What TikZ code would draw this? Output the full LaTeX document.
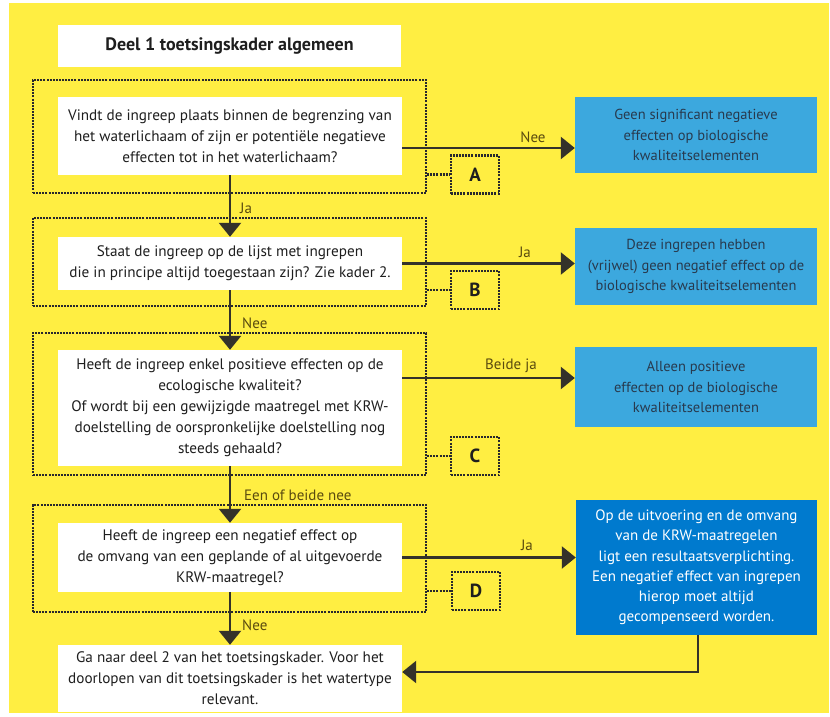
\documentclass[tikz,border=0pt]{standalone}
\usepackage{fontspec}
\setmainfont{PT Sans}
\usetikzlibrary{arrows.meta,calc}
\definecolor{bgyellow}{RGB}{255,238,66}
\definecolor{lblue}{RGB}{60,168,222}
\definecolor{dblue}{RGB}{0,122,206}
\definecolor{slate}{RGB}{40,58,78}
\definecolor{framegray}{RGB}{40,40,45}
\definecolor{arrowgray}{RGB}{52,50,42}
\definecolor{labelbrown}{RGB}{90,75,15}
\definecolor{qtext}{RGB}{30,30,30}
\tikzset{
  qbox/.style={fill=white, minimum width=344pt, align=center, text=qtext,
    font=\fontsize{15.2}{21}\selectfont, inner sep=0pt},
  frame/.style={draw=framegray, line width=2.2pt, dash pattern=on 2pt off 1.1pt, minimum width=393pt, inner sep=0pt},
  letterbox/.style={draw=framegray, line width=2.2pt, dash pattern=on 2pt off 1.1pt,
    minimum width=48pt, minimum height=38pt, font=\fontsize{19}{20}\selectfont\bfseries, text=qtext, inner sep=0pt},
  conn/.style={draw=framegray, line width=2.2pt, dash pattern=on 2pt off 1.1pt},
  bluebox/.style={fill=lblue, minimum width=242pt, align=center, text=slate,
    font=\fontsize{14.5}{20.5}\selectfont, inner sep=0pt},
  darkbox/.style={fill=dblue, minimum width=241pt, align=center, text=white,
    font=\fontsize{15}{20.2}\selectfont, inner sep=0pt},
  arr/.style={draw=arrowgray, line width=2.5pt, -{Triangle[width=22pt,length=14pt]}},
  lbl/.style={text=labelbrown, font=\fontsize{15}{16}\selectfont, inner sep=0pt},
}
\begin{document}
\begin{tikzpicture}[x=1pt,y=-1pt]
\useasboundingbox (0,0) rectangle (830,717);
\fill[bgyellow] (9,3) rectangle (829,713);
% frames
\node[frame, minimum height=113pt] (fA) at (229.5,136.5) {};
\node[frame, minimum height=88pt] (fB) at (229.5,262) {};
\node[frame, minimum height=142pt] (fC) at (229.5,404) {};
\node[frame, minimum height=107pt] (fD) at (229.5,558.5) {};
% title
\node[qbox, minimum width=343pt, minimum height=42pt, font=\fontsize{18}{20}\selectfont\bfseries] (title) at (229.5,46) {Deel 1 toetsingskader algemeen};
% question boxes
\node[qbox, minimum height=78pt] (q1) at (230,136) {Vindt de ingreep plaats binnen de begrenzing van\\het waterlichaam of zijn er potentiële negatieve\\effecten tot in het waterlichaam?};
\node[qbox, minimum height=53pt] (q2) at (230,263.5) {Staat de ingreep op de lijst met ingrepen\\die in principe altijd toegestaan zijn? Zie kader 2.};
\node[qbox, minimum height=116pt] (q3) at (230,408) {Heeft de ingreep enkel positieve effecten op de\\ecologische kwaliteit?\\Of wordt bij een gewijzigde maatregel met KRW-\\doelstelling de oorspronkelijke doelstelling nog\\steeds gehaald?};
\node[qbox, minimum height=69pt] (q4) at (230,557.5) {Heeft de ingreep een negatief effect op\\de omvang van een geplande of al uitgevoerde\\KRW-maatregel?};
\node[qbox, minimum height=67pt] (q5) at (230,678.5) {Ga naar deel 2 van het toetsingskader. Voor het\\doorlopen van dit toetsingskader is het watertype\\relevant.};
% letter boxes
\node[letterbox] (A) at (475,174.5) {A};
\node[letterbox] (B) at (475,290) {B};
\node[letterbox] (C) at (475,456) {C};
\node[letterbox] (D) at (476,591) {D};
\draw[conn] (A.west -| fA.east) -- (A.west);
\draw[conn] (B.west -| fB.east) -- (B.west);
\draw[conn] (C.west -| fC.east) -- (C.west);
\draw[conn] (D.west -| fD.east) -- (D.west);
% blue boxes
\node[bluebox, minimum height=76pt] (b1) at (696,135) {Geen significant negatieve\\effecten op biologische\\kwaliteitselementen};
\node[bluebox, minimum height=77pt] (b2) at (696,266.5) {Deze ingrepen hebben\\(vrijwel) geen negatief effect op de\\biologische kwaliteitselementen};
\node[bluebox, minimum height=80pt] (b3) at (696,387) {Alleen positieve\\effecten op de biologische\\kwaliteitselementen};
\node[darkbox, minimum height=135pt] (b4) at (696.5,567.5) {Op de uitvoering en de omvang\\van de KRW-maatregelen\\ligt een resultaatsverplichting.\\Een negatief effect van ingrepen\\hierop moet altijd\\gecompenseerd worden.};
% vertical arrows
\draw[arr] (q1.south) -- (q2.north);
\draw[arr] (q2.south) -- (q3.north);
\draw[arr] (q3.south) -- (q4.north);
\draw[arr] (q4.south) -- (q5.north);
\node[lbl, anchor=west] (l1) at (240,208) {Ja};
\node[lbl, anchor=west] (l2) at (242,323) {Nee};
\node[lbl, anchor=west] (l3) at (244,495) {Een of beide nee};
\node[lbl, anchor=west] (l4) at (242,625) {Nee};
% horizontal arrows
\draw[arr] ([yshift=-12pt]q1.east) -- ([yshift=-12pt]q1.east -| b1.west);
\draw[arr] (q2.east) -- (q2.east -| b2.west);
\draw[arr] ([yshift=30pt]q3.east) -- ([yshift=30pt]q3.east -| b3.west);
\draw[arr] (q4.east) -- (q4.east -| b4.west);
\node[lbl] (h1) at (533,137) {Nee};
\node[lbl] (h2) at (525,252) {Ja};
\node[lbl] (h3) at (511,366) {Beide ja};
\node[lbl] (h4) at (527,545) {Ja};
% return arrow
\draw[arr] ([xshift=1.5pt]b4.south) |- ([yshift=6.5pt]q5.east);
\end{tikzpicture}
\end{document}
